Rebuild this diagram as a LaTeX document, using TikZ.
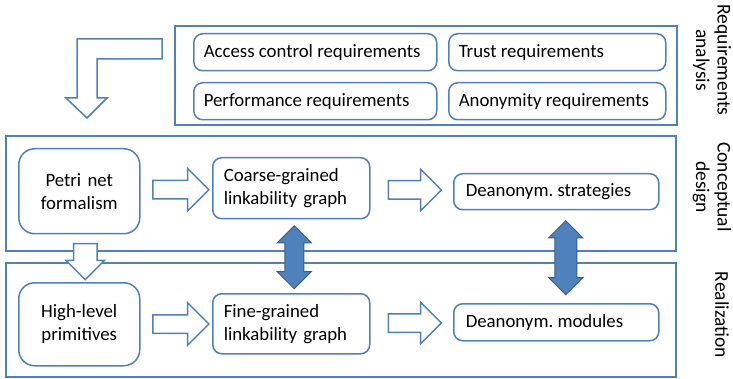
\documentclass[tikz,border=0pt]{standalone}
\usepackage{fontspec}
\setmainfont{Carlito}
\frenchspacing
\usetikzlibrary{shapes.arrows,calc}
\definecolor{boxblue}{HTML}{4F81BD}
\definecolor{arrowedge}{HTML}{385D8A}
\newcommand{\lline}[2]{\makebox[#1][l]{#2}}
\tikzset{
  frame/.style={draw=boxblue,line width=1.5pt},
  rbox/.style={draw=boxblue,line width=1.5pt,rounded corners=9pt,anchor=north west,
    font=\fontsize{18.8pt}{23pt}\selectfont\frenchspacing,align=left,inner ysep=0pt},
  hollow/.style={single arrow,draw=boxblue,line width=1.5pt,fill=white,inner sep=0pt,
    single arrow tip angle=90},
  dbl/.style={double arrow,draw=arrowedge,line width=1pt,fill=boxblue,inner sep=0pt,
    double arrow tip angle=90,shape border rotate=90},
  side/.style={rotate=-90,font=\fontsize{19.5pt}{21.5pt}\selectfont,align=center}
}
\begin{document}
\begin{tikzpicture}[x=1pt,y=-1pt]
\useasboundingbox (0,0) rectangle (733,379);
% big frames
\draw[frame] (175,26) rectangle (677,125);
\draw[frame] (6,136) rectangle (676,251);
\draw[frame] (6,263) rectangle (676,377);
% requirement boxes
\node[rbox,minimum width=243pt,minimum height=37pt,inner xsep=10pt] (acc) at (193,33) {\lline{223pt}{Access control requirements}};
\node[rbox,minimum width=217pt,minimum height=37pt,inner xsep=10pt] (trust) at (448,33) {\lline{197pt}{Trust requirements}};
\node[rbox,minimum width=243pt,minimum height=37pt,inner xsep=10pt] (perf) at (193,82) {\lline{223pt}{Performance requirements}};
\node[rbox,minimum width=217pt,minimum height=37pt,inner xsep=10pt] (anon) at (448,82) {\lline{197pt}{Anonymity requirements}};
% conceptual
\node[rbox,rounded corners=16pt,minimum width=121pt,minimum height=85pt,text width=121pt,inner xsep=0pt,align=center] (petri) at (18,148) {Petri net\\formalism};
\node[rbox,minimum width=157pt,minimum height=61pt,text width=135pt,inner xsep=11pt] (coarse) at (212,157) {Coarse-grained\\linkability graph};
\node[rbox,minimum width=205pt,minimum height=36pt,inner xsep=12pt] (strat) at (453,173) {\lline{181pt}{Deanonym. strategies}};
% realization
\node[rbox,rounded corners=16pt,minimum width=121pt,minimum height=83pt,text width=121pt,inner xsep=0pt,align=center] (high) at (18,282) {High-level\\primitives};
\node[rbox,minimum width=157pt,minimum height=60pt,text width=135pt,inner xsep=11pt] (fine) at (212,293) {Fine-grained\\linkability graph};
\node[rbox,minimum width=205pt,minimum height=37pt,inner xsep=12pt] (mods) at (453,303) {\lline{181pt}{Deanonym. modules}};
% hollow arrows
\node[hollow,minimum width=41pt,minimum height=56pt,single arrow head extend=12pt,inner ysep=8.5pt] (a1) at ($(petri.east)!0.5!(coarse.west)$) {};
\node[hollow,minimum width=40pt,minimum height=53pt,single arrow head extend=11.5pt,inner ysep=8.5pt] (a2) at ($(coarse.east)!0.5!(strat.west)+(-1.5,0)$) {};
\node[hollow,minimum width=41pt,minimum height=56pt,single arrow head extend=12pt,inner ysep=8.5pt] (a3) at ($(high.east)!0.5!(fine.west)$) {};
\node[hollow,minimum width=40pt,minimum height=53pt,single arrow head extend=11.5pt,inner ysep=8.5pt] (a4) at ($(fine.east)!0.5!(mods.west)+(-1.5,0)$) {};
\node[hollow,minimum width=37pt,minimum height=36pt,single arrow head extend=7.5pt,inner xsep=11pt,inner ysep=11pt,shape border rotate=270] (a5) at ($(petri.south)!0.5!(high.north)+(6,-2.5)$) {};
% double arrows
\node[dbl,minimum width=33pt,minimum height=63pt,double arrow head extend=7.5pt,inner xsep=9pt] (d1) at ($(coarse.south)!0.5!(fine.north)+(3,1)$) {};
\node[dbl,minimum width=33pt,minimum height=74pt,double arrow head extend=6pt,inner xsep=10.5pt] (d2) at ($(strat.south)!0.5!(mods.north)+(9.5,1)$) {};
% bent arrow
\draw[draw=boxblue,line width=1.5pt,fill=white,line join=miter]
  (162,39) -- (77,39) -- (77,98) -- (66,98) -- (87,118) -- (107,98) -- (97,98) -- (97,59) -- (162,59) -- cycle;
% side labels
\node[side] (lreq) at (712,60) {Requirements\\analysis};
\node[side] (lcon) at (712,187) {Conceptual\\design};
\node[side] (lrea) at (722,315) {Realization};
\end{tikzpicture}
\end{document}
